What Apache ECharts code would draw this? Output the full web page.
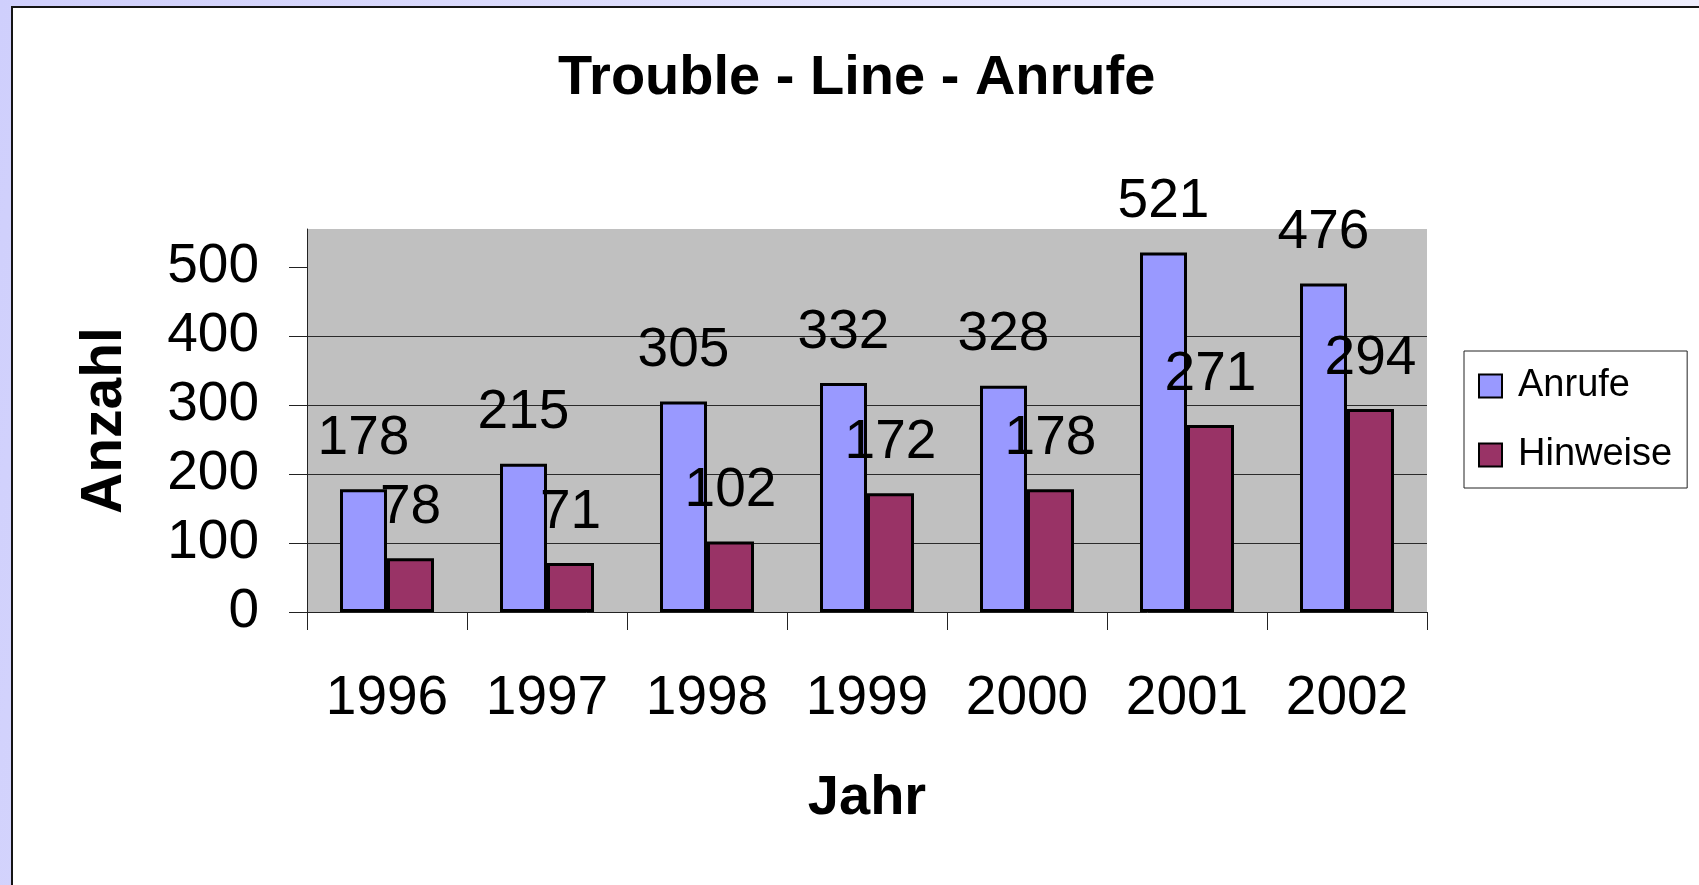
<!DOCTYPE html>
<html>
<head>
<meta charset="utf-8">
<title>Trouble - Line - Anrufe</title>
<script src="https://cdn.jsdelivr.net/npm/echarts@6/dist/echarts.min.js"></script>
<style>
  html, body { margin: 0; padding: 0; }
  body {
    width: 1699px; height: 885px; overflow: hidden; position: relative;
    background: linear-gradient(100deg, #cfcffc 0%, #e4e4fd 50%, #f0f0fd 100%);
  }
  #panel {
    position: absolute; left: 11px; top: 6px; right: 0; bottom: 0;
    background: #fff;
    border-left: 2px solid #151515;
    border-top: 2px solid #151515;
  }
  #chart { position: absolute; left: 0; top: 0; width: 1699px; height: 885px; }
</style>
</head>
<body>
<div id="panel"></div>
<div id="chart"></div>
<script>
// values
const years = ['1996', '1997', '1998', '1999', '2000', '2001', '2002'];
const anrufe = [178, 215, 305, 332, 328, 521, 476];
const hinweise = [78, 71, 102, 172, 178, 271, 294];
const yTicks = [0, 100, 200, 300, 400, 500];

const FONT = '"Liberation Sans", Arial, sans-serif';

const chart = echarts.init(document.getElementById('chart'), null, { renderer: 'canvas' });

function barSeries(name, data, color) {
  return {
    name,
    type: 'bar',
    data,
    barWidth: 47,
    barGap: '0%',
    itemStyle: { color, borderColor: '#000', borderWidth: 3 },
    label: {
      show: true,
      position: 'top',
      distance: 23,
      color: '#000',
      fontFamily: FONT,
      fontSize: 55,
    },
  };
}

chart.setOption({
  animation: false,
  backgroundColor: 'transparent',
  textStyle: { fontFamily: FONT },
  title: {
    text: 'Trouble - Line - Anrufe',
    left: 558,
    top: 51,
    padding: 0,
    textStyle: { fontFamily: FONT, fontSize: 56, fontWeight: 'bold', color: '#000' },
  },
  legend: {
    orient: 'vertical',
    left: 1464,
    top: 351,
    padding: [16, 15, 14, 14],
    itemGap: 31,
    itemWidth: 23,
    itemHeight: 23,
    icon: 'rect',
    backgroundColor: '#fff',
    borderColor: '#222',
    borderWidth: 1,
    textStyle: { fontFamily: FONT, fontSize: 38, color: '#000', padding: [0, 0, 0, 11] },
    data: ['Anrufe', 'Hinweise'],
  },
  grid: {
    left: 307, right: 272, top: 229, bottom: 273,
    show: true,
    backgroundColor: '#c0c0c0',
    borderWidth: 0,
  },
  xAxis: {
    type: 'category',
    data: years,
    name: 'Jahr',
    nameLocation: 'middle',
    nameGap: 159,
    nameTextStyle: { fontFamily: FONT, fontSize: 56, fontWeight: 'bold', color: '#000' },
    axisLine: { show: true, lineStyle: { color: '#222', width: 1 } },
    axisTick: { show: true, length: 18, lineStyle: { color: '#222', width: 1 } },
    axisLabel: { margin: 59, fontFamily: FONT, fontSize: 55, color: '#000', interval: 0 },
  },
  yAxis: {
    type: 'value',
    min: 0,
    max: 555,
    interval: 100,
    name: 'Anzahl',
    nameLocation: 'middle',
    nameGap: 173,
    nameRotate: 90,
    nameTextStyle: { fontFamily: FONT, fontSize: 57, fontWeight: 'bold', color: '#000' },
    axisLine: { show: true, lineStyle: { color: '#222', width: 1 } },
    axisTick: { show: true, length: 18, customValues: yTicks, lineStyle: { color: '#222', width: 1 } },
    axisLabel: { margin: 48, fontFamily: FONT, fontSize: 55, color: '#000', customValues: yTicks },
    splitLine: { show: true, showMinLine: false, showMaxLine: false, lineStyle: { color: '#2a2a2a', width: 1 } },
  },
  series: [
    barSeries('Anrufe', anrufe, '#9999ff'),
    barSeries('Hinweise', hinweise, '#993366'),
  ],
});
</script>
</body>
</html>
